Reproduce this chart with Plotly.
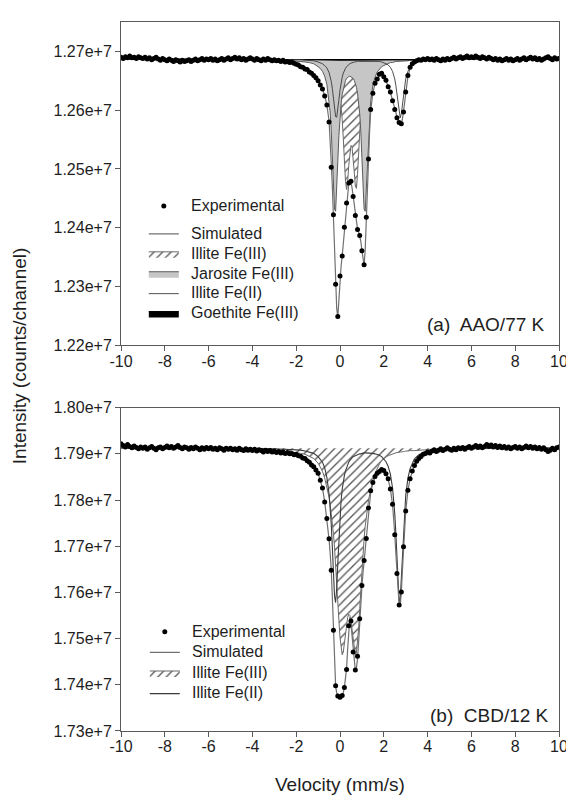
import plotly.graph_objects as go

# ---------------- data (intensities in units of 1e7 counts) ----------------
# measured velocity channels (mm/s)
vel_exp = [
    -10.0, -9.9, -9.8, -9.7, -9.6, -9.5, -9.4, -9.3, -9.2, -9.1,
    -9.0, -8.9, -8.8, -8.7, -8.6, -8.5, -8.4, -8.3, -8.2, -8.1,
    -8.0, -7.9, -7.8, -7.7, -7.6, -7.5, -7.4, -7.3, -7.2, -7.1,
    -7.0, -6.9, -6.8, -6.7, -6.6, -6.5, -6.4, -6.3, -6.2, -6.1,
    -6.0, -5.9, -5.8, -5.7, -5.6, -5.5, -5.4, -5.3, -5.2, -5.1,
    -5.0, -4.9, -4.8, -4.7, -4.6, -4.5, -4.4, -4.3, -4.2, -4.1,
    -4.0, -3.9, -3.8, -3.7, -3.6, -3.5, -3.4, -3.3, -3.2, -3.1,
    -3.0, -2.9, -2.8, -2.7, -2.6, -2.5, -2.4, -2.3, -2.2, -2.1,
    -2.0, -1.9, -1.8, -1.7, -1.6, -1.5, -1.4, -1.3, -1.2, -1.1,
    -1.0, -0.9, -0.8, -0.7, -0.6, -0.5, -0.4, -0.3, -0.2, -0.1,
    0.0, 0.1, 0.2, 0.3, 0.4, 0.5, 0.6, 0.7, 0.8, 0.9,
    1.0, 1.1, 1.2, 1.3, 1.4, 1.5, 1.6, 1.7, 1.8, 1.9,
    2.0, 2.1, 2.2, 2.3, 2.4, 2.5, 2.6, 2.7, 2.8, 2.9,
    3.0, 3.1, 3.2, 3.3, 3.4, 3.5, 3.6, 3.7, 3.8, 3.9,
    4.0, 4.1, 4.2, 4.3, 4.4, 4.5, 4.6, 4.7, 4.8, 4.9,
    5.0, 5.1, 5.2, 5.3, 5.4, 5.5, 5.6, 5.7, 5.8, 5.9,
    6.0, 6.1, 6.2, 6.3, 6.4, 6.5, 6.6, 6.7, 6.8, 6.9,
    7.0, 7.1, 7.2, 7.3, 7.4, 7.5, 7.6, 7.7, 7.8, 7.9,
    8.0, 8.1, 8.2, 8.3, 8.4, 8.5, 8.6, 8.7, 8.8, 8.9,
    9.0, 9.1, 9.2, 9.3, 9.4, 9.5, 9.6, 9.7, 9.8, 9.9, 10.0,
]

exp_a = [
    1.2690, 1.2688, 1.2691, 1.2689, 1.2692, 1.2689, 1.2690, 1.2688, 1.2691, 1.2689,
    1.2688, 1.2690, 1.2687, 1.2689, 1.2686, 1.2688, 1.2690, 1.2687, 1.2685, 1.2688,
    1.2686, 1.2684, 1.2687, 1.2685, 1.2683, 1.2686, 1.2684, 1.2682, 1.2685, 1.2683,
    1.2684, 1.2686, 1.2683, 1.2685, 1.2687, 1.2684, 1.2686, 1.2688, 1.2685, 1.2687,
    1.2686, 1.2688, 1.2685, 1.2687, 1.2684, 1.2686, 1.2688, 1.2685, 1.2687, 1.2689,
    1.2686, 1.2688, 1.2690, 1.2687, 1.2689, 1.2686, 1.2688, 1.2685, 1.2687, 1.2689,
    1.2687, 1.2685, 1.2688, 1.2686, 1.2684, 1.2687, 1.2685, 1.2688, 1.2686, 1.2684,
    1.2686, 1.2684, 1.2685, 1.2683, 1.2685, 1.2682, 1.2683, 1.2681, 1.2682, 1.2680,
    1.2678, 1.2677, 1.2674, 1.2673, 1.2670, 1.2669, 1.2665, 1.2663, 1.2659, 1.2655,
    1.2650, 1.2643, 1.2636, 1.2624, 1.2609, 1.2580, 1.2503, 1.2422, 1.2304, 1.2249,
    1.2318, 1.2352, 1.2401, 1.2442, 1.2476, 1.2479, 1.2453, 1.2421, 1.2397, 1.2387,
    1.2361, 1.2337, 1.2418, 1.2517, 1.2601, 1.2629, 1.2646, 1.2653, 1.2661, 1.2663,
    1.2657, 1.2651, 1.2640, 1.2631, 1.2616, 1.2601, 1.2587, 1.2579, 1.2577, 1.2597,
    1.2631, 1.2659, 1.2673, 1.2679, 1.2682, 1.2684, 1.2686, 1.2685, 1.2687, 1.2686,
    1.2688, 1.2686, 1.2687, 1.2685, 1.2688, 1.2686, 1.2684, 1.2687, 1.2685, 1.2688,
    1.2686, 1.2688, 1.2690, 1.2687, 1.2689, 1.2691, 1.2688, 1.2690, 1.2692, 1.2689,
    1.2691, 1.2689, 1.2692, 1.2690, 1.2688, 1.2691, 1.2689, 1.2687, 1.2690, 1.2688,
    1.2686, 1.2688, 1.2685, 1.2687, 1.2684, 1.2686, 1.2688, 1.2685, 1.2687, 1.2684,
    1.2686, 1.2688, 1.2685, 1.2687, 1.2689, 1.2686, 1.2688, 1.2690, 1.2687, 1.2689,
    1.2686, 1.2688, 1.2685, 1.2687, 1.2689, 1.2691, 1.2688, 1.2686, 1.2689, 1.2687, 1.2688,
]

exp_b = [
    1.7922, 1.7918, 1.7915, 1.7920, 1.7916, 1.7913, 1.7917, 1.7914, 1.7911, 1.7915,
    1.7912, 1.7915, 1.7910, 1.7913, 1.7916, 1.7912, 1.7909, 1.7913, 1.7915, 1.7911,
    1.7914, 1.7917, 1.7913, 1.7916, 1.7912, 1.7915, 1.7918, 1.7914, 1.7911, 1.7915,
    1.7913, 1.7910, 1.7914, 1.7911, 1.7915, 1.7912, 1.7909, 1.7913, 1.7910, 1.7914,
    1.7911, 1.7914, 1.7910, 1.7912, 1.7909, 1.7913, 1.7911, 1.7908, 1.7912, 1.7910,
    1.7912, 1.7909, 1.7911, 1.7908, 1.7912, 1.7909, 1.7907, 1.7911, 1.7908, 1.7910,
    1.7907, 1.7910, 1.7906, 1.7909, 1.7907, 1.7904, 1.7908, 1.7905, 1.7907, 1.7904,
    1.7906, 1.7903, 1.7905, 1.7902, 1.7904, 1.7901, 1.7903, 1.7900, 1.7901, 1.7898,
    1.7899, 1.7896, 1.7895, 1.7891, 1.7890, 1.7885, 1.7882, 1.7876, 1.7872, 1.7865,
    1.7858, 1.7843, 1.7826, 1.7796, 1.7760, 1.7716, 1.7648, 1.7518, 1.7398, 1.7376,
    1.7373, 1.7377, 1.7394, 1.7433, 1.7528, 1.7538, 1.7471, 1.7432, 1.7462, 1.7543,
    1.7615, 1.7669, 1.7717, 1.7783, 1.7820, 1.7838, 1.7851, 1.7858, 1.7862, 1.7866,
    1.7864, 1.7857, 1.7846, 1.7824, 1.7791, 1.7725, 1.7641, 1.7573, 1.7601, 1.7699,
    1.7776, 1.7821, 1.7846, 1.7863, 1.7875, 1.7884, 1.7890, 1.7894, 1.7899, 1.7901,
    1.7904, 1.7902, 1.7906, 1.7909, 1.7905, 1.7908, 1.7911, 1.7907, 1.7910, 1.7913,
    1.7910, 1.7908, 1.7912, 1.7909, 1.7913, 1.7911, 1.7914, 1.7910, 1.7913, 1.7916,
    1.7912, 1.7915, 1.7918, 1.7914, 1.7917, 1.7913, 1.7916, 1.7920, 1.7916, 1.7919,
    1.7915, 1.7918, 1.7914, 1.7917, 1.7913, 1.7916, 1.7912, 1.7915, 1.7911, 1.7914,
    1.7916, 1.7912, 1.7915, 1.7911, 1.7914, 1.7917, 1.7913, 1.7916, 1.7912, 1.7915,
    1.7911, 1.7914, 1.7910, 1.7913, 1.7909, 1.7905, 1.7908, 1.7912, 1.7909, 1.7913, 1.7915,
]

# velocity grid of the fitted curves (mm/s)
vel_fit = [
    -10, -8, -6, -5, -4, -3, -2.5, -2, -1.8, -1.6, -1.4, -1.2, -1.0, -0.9, -0.8, -0.7, -0.6, -0.5,
    -0.45, -0.4, -0.35, -0.3, -0.25, -0.2, -0.15, -0.1, -0.05, 0,
    0.05, 0.1, 0.15, 0.2, 0.25, 0.3, 0.35, 0.4, 0.45, 0.5, 0.55, 0.6, 0.65, 0.7, 0.75, 0.8,
    0.85, 0.9, 0.95, 1.0, 1.05, 1.1, 1.15, 1.2, 1.25, 1.3, 1.35,
    1.4, 1.5, 1.6, 1.7, 1.8, 1.9, 2.0, 2.1, 2.2, 2.3, 2.4,
    2.45, 2.5, 2.55, 2.6, 2.65, 2.7, 2.75, 2.8, 2.85, 2.9, 2.95, 3.0,
    3.1, 3.2, 3.4, 3.6, 3.8, 4.0, 4.5, 5, 6, 8, 10,
]

# (a) AAO / 77 K
sim_a = [
    1.2687, 1.2687, 1.2687, 1.2686, 1.2685, 1.2683, 1.2681, 1.2678, 1.2675, 1.2671, 1.2666, 1.2660, 1.2651, 1.2644, 1.2636, 1.2625, 1.2609, 1.2582,
    1.2553, 1.2510, 1.2470, 1.2420, 1.2362, 1.2305, 1.2262, 1.2248, 1.2283, 1.2316,
    1.2335, 1.2352, 1.2373, 1.2400, 1.2421, 1.2441, 1.2461, 1.2475, 1.2481, 1.2478, 1.2468, 1.2455, 1.2440, 1.2422, 1.2408, 1.2398,
    1.2393, 1.2386, 1.2377, 1.2362, 1.2346, 1.2336, 1.2362, 1.2418, 1.2466, 1.2514, 1.2562,
    1.2598, 1.2630, 1.2645, 1.2654, 1.2660, 1.2662, 1.2658, 1.2650, 1.2641, 1.2630, 1.2617,
    1.2609, 1.2601, 1.2594, 1.2588, 1.2582, 1.2578, 1.2576, 1.2578, 1.2585, 1.2598, 1.2613, 1.2630,
    1.2657, 1.2671, 1.2681, 1.2684, 1.2685, 1.2686, 1.2687, 1.2687, 1.2687, 1.2687, 1.2687,
]
illite3_a = [
    1.2687, 1.2687, 1.2687, 1.2687, 1.2686, 1.2686, 1.2685, 1.2685, 1.2684, 1.2684, 1.2683, 1.2683, 1.2682, 1.2681, 1.2679, 1.2678, 1.2676, 1.2674,
    1.2672, 1.2670, 1.2668, 1.2665, 1.2662, 1.2659, 1.2653, 1.2646, 1.2637, 1.2625,
    1.2608, 1.2584, 1.2552, 1.2514, 1.2479, 1.2465, 1.2479, 1.2506, 1.2529, 1.2540, 1.2537, 1.2521, 1.2495, 1.2471, 1.2467, 1.2491,
    1.2530, 1.2566, 1.2595, 1.2616, 1.2631, 1.2641, 1.2649, 1.2656, 1.2660, 1.2664, 1.2667,
    1.2670, 1.2673, 1.2676, 1.2678, 1.2679, 1.2680, 1.2681, 1.2682, 1.2682, 1.2683, 1.2683,
    1.2684, 1.2684, 1.2684, 1.2684, 1.2684, 1.2684, 1.2685, 1.2685, 1.2685, 1.2685, 1.2685, 1.2685,
    1.2685, 1.2685, 1.2686, 1.2686, 1.2686, 1.2686, 1.2686, 1.2687, 1.2687, 1.2687, 1.2687,
]
jarosite_a = [
    1.2687, 1.2687, 1.2687, 1.2686, 1.2686, 1.2686, 1.2685, 1.2684, 1.2683, 1.2682, 1.2681, 1.2679, 1.2674, 1.2671, 1.2666, 1.2658, 1.2644, 1.2618,
    1.2597, 1.2566, 1.2524, 1.2474, 1.2432, 1.2428, 1.2463, 1.2513, 1.2557, 1.2589,
    1.2611, 1.2627, 1.2637, 1.2645, 1.2650, 1.2654, 1.2656, 1.2657, 1.2658, 1.2657, 1.2656, 1.2654, 1.2651, 1.2646, 1.2639, 1.2629,
    1.2615, 1.2594, 1.2564, 1.2523, 1.2473, 1.2432, 1.2428, 1.2464, 1.2514, 1.2558, 1.2591,
    1.2614, 1.2642, 1.2656, 1.2665, 1.2670, 1.2674, 1.2676, 1.2678, 1.2680, 1.2681, 1.2681,
    1.2682, 1.2682, 1.2683, 1.2683, 1.2683, 1.2683, 1.2684, 1.2684, 1.2684, 1.2684, 1.2684, 1.2684,
    1.2684, 1.2685, 1.2685, 1.2685, 1.2686, 1.2686, 1.2686, 1.2686, 1.2687, 1.2687, 1.2687,
]
illite2_a = [
    1.2687, 1.2687, 1.2687, 1.2687, 1.2687, 1.2687, 1.2686, 1.2686, 1.2686, 1.2685, 1.2685, 1.2684, 1.2682, 1.2681, 1.2679, 1.2676, 1.2672, 1.2664,
    1.2658, 1.2649, 1.2637, 1.2621, 1.2603, 1.2589, 1.2588, 1.2600, 1.2618, 1.2634,
    1.2647, 1.2656, 1.2663, 1.2668, 1.2671, 1.2674, 1.2676, 1.2678, 1.2679, 1.2680, 1.2681, 1.2681, 1.2682, 1.2682, 1.2683, 1.2683,
    1.2683, 1.2683, 1.2684, 1.2684, 1.2684, 1.2684, 1.2684, 1.2684, 1.2684, 1.2684, 1.2684,
    1.2684, 1.2684, 1.2684, 1.2683, 1.2683, 1.2682, 1.2681, 1.2679, 1.2677, 1.2673, 1.2666,
    1.2660, 1.2653, 1.2642, 1.2628, 1.2611, 1.2594, 1.2587, 1.2594, 1.2611, 1.2628, 1.2642, 1.2653,
    1.2666, 1.2673, 1.2680, 1.2683, 1.2684, 1.2685, 1.2686, 1.2686, 1.2687, 1.2687, 1.2687,
]
vel_goethite = [-10, -3, -1.5, 0, 1.5, 3, 4.5, 10]
goethite_a = [1.2687, 1.2687, 1.2686, 1.2685, 1.2685, 1.2685, 1.2686, 1.2687]

# (b) CBD / 12 K
sim_b = [
    1.7913, 1.7913, 1.7912, 1.7911, 1.7909, 1.7906, 1.7903, 1.7899, 1.7895, 1.7890, 1.7882, 1.7872, 1.7858, 1.7844, 1.7826, 1.7797, 1.7760, 1.7715,
    1.7685, 1.7650, 1.7590, 1.7510, 1.7440, 1.7398, 1.7382, 1.7376, 1.7374, 1.7373,
    1.7374, 1.7377, 1.7383, 1.7394, 1.7410, 1.7435, 1.7478, 1.7525, 1.7546, 1.7532, 1.7505, 1.7468, 1.7440, 1.7431, 1.7436, 1.7456,
    1.7492, 1.7538, 1.7580, 1.7613, 1.7642, 1.7667, 1.7692, 1.7718, 1.7748, 1.7778, 1.7800,
    1.7816, 1.7835, 1.7849, 1.7857, 1.7862, 1.7865, 1.7863, 1.7856, 1.7844, 1.7824, 1.7790,
    1.7762, 1.7727, 1.7685, 1.7640, 1.7600, 1.7574, 1.7572, 1.7600, 1.7648, 1.7700, 1.7742, 1.7775,
    1.7820, 1.7847, 1.7874, 1.7889, 1.7898, 1.7903, 1.7908, 1.7910, 1.7912, 1.7913, 1.7913,
]
illite3_b = [
    1.7912, 1.7912, 1.7911, 1.7910, 1.7909, 1.7907, 1.7905, 1.7903, 1.7901, 1.7899, 1.7895, 1.7890, 1.7880, 1.7872, 1.7862, 1.7848, 1.7830, 1.7806,
    1.7791, 1.7773, 1.7752, 1.7727, 1.7698, 1.7664, 1.7625, 1.7582, 1.7539, 1.7502,
    1.7475, 1.7465, 1.7471, 1.7488, 1.7511, 1.7532, 1.7546, 1.7553, 1.7550, 1.7538, 1.7520, 1.7497, 1.7477, 1.7465, 1.7469, 1.7489,
    1.7523, 1.7565, 1.7608, 1.7649, 1.7685, 1.7716, 1.7743, 1.7765, 1.7783, 1.7798, 1.7811,
    1.7824, 1.7842, 1.7858, 1.7869, 1.7878, 1.7885, 1.7890, 1.7893, 1.7896, 1.7898, 1.7900,
    1.7901, 1.7902, 1.7902, 1.7903, 1.7903, 1.7904, 1.7904, 1.7904, 1.7905, 1.7905, 1.7905, 1.7906,
    1.7906, 1.7907, 1.7907, 1.7908, 1.7908, 1.7909, 1.7909, 1.7910, 1.7911, 1.7912, 1.7912,
]
illite2_b = [
    1.7913, 1.7913, 1.7912, 1.7912, 1.7912, 1.7911, 1.7910, 1.7909, 1.7908, 1.7906, 1.7904, 1.7901, 1.7894, 1.7889, 1.7882, 1.7870, 1.7849, 1.7814,
    1.7786, 1.7748, 1.7698, 1.7641, 1.7592, 1.7578, 1.7609, 1.7664, 1.7719, 1.7765,
    1.7799, 1.7823, 1.7842, 1.7853, 1.7863, 1.7871, 1.7877, 1.7882, 1.7886, 1.7889, 1.7892, 1.7894, 1.7895, 1.7896, 1.7898, 1.7899,
    1.7899, 1.7900, 1.7900, 1.7901, 1.7901, 1.7902, 1.7902, 1.7902, 1.7902, 1.7902, 1.7902,
    1.7902, 1.7901, 1.7900, 1.7899, 1.7897, 1.7894, 1.7889, 1.7883, 1.7873, 1.7856, 1.7826,
    1.7803, 1.7771, 1.7728, 1.7674, 1.7617, 1.7580, 1.7585, 1.7629, 1.7686, 1.7738, 1.7779, 1.7809,
    1.7847, 1.7868, 1.7889, 1.7898, 1.7903, 1.7906, 1.7909, 1.7911, 1.7912, 1.7913, 1.7913,
]

x_ticks = [-10, -8, -6, -4, -2, 0, 2, 4, 6, 8, 10]
x_tick_text = ["-10", "-8", "-6", "-4", "-2", "0", "2", "4", "6", "8", "10"]

legend_a_labels = ["Experimental", "Simulated", "Illite Fe(III)", "Jarosite Fe(III)", "Illite Fe(II)", "Goethite Fe(III)"]
legend_b_labels = ["Experimental", "Simulated", "Illite Fe(III)", "Illite Fe(II)"]

E7 = 1e7
def counts(lst):
    return [v * E7 for v in lst]

# ---------------- layout geometry (page pixels; the page body adds an 8 px offset) ----------------
OFF = 8
W, H = 574 - OFF, 797 - OFF
ML, MR, MT, MB = 121 - OFF, 11, 14 - OFF, 66
PW = W - ML - MR
PH = H - MT - MB

def py(page_y):
    return (H - MB - (page_y - OFF)) / PH

def pxx(page_x):
    return (page_x - OFF - ML) / PW

FONT = "Liberation Sans, Arial, Helvetica, sans-serif"
TXT = "#1e1e1e"
AX = "#5a5a5a"
SIM_COL = "#707070"
FE2_COL = "#3a3a3a"
MSIZE = 5

fig = go.Figure()
hatch = dict(shape="/", size=6, solidity=0.22, fgcolor="#555555", bgcolor="white", fillmode="replace")

# ---- panel (a) ----
fig.add_trace(go.Scatter(x=vel_fit, y=counts(illite3_a), mode="lines", fill="toself",
                         fillcolor="white", fillpattern=hatch,
                         line=dict(color="#6a6a6a", width=1), name="",
                         legend="legend", legendrank=3, legendgroup="fitA",
                         xaxis="x", yaxis="y"))
fig.add_trace(go.Scatter(x=vel_fit, y=counts(jarosite_a), mode="lines", fill="toself",
                         fillcolor="#c6c6c6", line=dict(color="#5a5a5a", width=1),
                         name="", legend="legend", legendrank=4, legendgroup="fitA",
                         xaxis="x", yaxis="y"))
fig.add_trace(go.Scatter(x=vel_goethite, y=counts(goethite_a), mode="lines", fill="toself",
                         fillcolor="black", line=dict(color="black", width=1),
                         name="", legend="legend", legendrank=6, legendgroup="fitA",
                         xaxis="x", yaxis="y"))
fig.add_trace(go.Scatter(x=vel_fit, y=counts(illite2_a), mode="lines",
                         line=dict(color=FE2_COL, width=0.9), name="",
                         legend="legend", legendrank=5, legendgroup="fitA",
                         xaxis="x", yaxis="y"))
fig.add_trace(go.Scatter(x=vel_fit, y=counts(sim_a), mode="lines",
                         line=dict(color=SIM_COL, width=1.2), name="",
                         legend="legend", legendrank=2, legendgroup="fitA",
                         xaxis="x", yaxis="y"))
fig.add_trace(go.Scatter(x=vel_exp, y=counts(exp_a), mode="markers",
                         marker=dict(color="black", size=MSIZE), name="",
                         legend="legend", legendrank=1, legendgroup="expA",
                         xaxis="x", yaxis="y"))

# ---- panel (b) ----
fig.add_trace(go.Scatter(x=vel_fit, y=counts(illite3_b), mode="lines", fill="toself",
                         fillcolor="white", fillpattern=hatch,
                         line=dict(color="#6a6a6a", width=1), name="",
                         legend="legend2", legendrank=3, legendgroup="fitB",
                         xaxis="x2", yaxis="y2"))
fig.add_trace(go.Scatter(x=vel_fit, y=counts(illite2_b), mode="lines",
                         line=dict(color=FE2_COL, width=1.1), name="",
                         legend="legend2", legendrank=4, legendgroup="fitB",
                         xaxis="x2", yaxis="y2"))
fig.add_trace(go.Scatter(x=vel_fit, y=counts(sim_b), mode="lines",
                         line=dict(color=SIM_COL, width=1.2), name="",
                         legend="legend2", legendrank=2, legendgroup="fitB",
                         xaxis="x2", yaxis="y2"))
fig.add_trace(go.Scatter(x=vel_exp, y=counts(exp_b), mode="markers",
                         marker=dict(color="black", size=MSIZE), name="",
                         legend="legend2", legendrank=1, legendgroup="expB",
                         xaxis="x2", yaxis="y2"))

xaxis_common = dict(range=[-10, 10], tickvals=x_ticks, ticktext=x_tick_text,
                    showline=True, linecolor=AX, linewidth=1, mirror=True,
                    ticks="outside", ticklen=5, tickcolor=AX, tickwidth=1,
                    showgrid=False, zeroline=False, ticklabelstandoff=-4,
                    tickfont=dict(family=FONT, size=16, color=TXT))
yaxis_common = dict(showline=True, linecolor=AX, linewidth=1, mirror=True,
                    ticks="outside", ticklen=5, tickcolor=AX, tickwidth=1,
                    showgrid=False, zeroline=False, tickformat=".2e", dtick=1e5,
                    tickfont=dict(family=FONT, size=16, color=TXT))

# legend rows (page y of each entry) -> text annotations next to the legend keys
rows_a = [200, 228, 248, 268, 288, 308]
rows_b = [630, 651, 672, 692]
annots = []
for lab, yy in zip(legend_a_labels, rows_a):
    annots.append(dict(text=lab, x=pxx(190), y=py(yy), xref="paper", yref="paper",
                       xanchor="left", yanchor="middle", showarrow=False,
                       font=dict(family=FONT, size=16, color=TXT)))
for lab, yy in zip(legend_b_labels, rows_b):
    annots.append(dict(text=lab, x=pxx(191), y=py(yy), xref="paper", yref="paper",
                       xanchor="left", yanchor="middle", showarrow=False,
                       font=dict(family=FONT, size=16, color=TXT)))
annots += [
    dict(text="(a)\u00a0 AAO/77 K", x=pxx(551), y=py(320), xref="paper", yref="paper",
         xanchor="right", yanchor="middle", showarrow=False,
         font=dict(family=FONT, size=19, color=TXT)),
    dict(text="(b)\u00a0 CBD/12 K", x=pxx(555), y=py(715), xref="paper", yref="paper",
         xanchor="right", yanchor="middle", showarrow=False,
         font=dict(family=FONT, size=19, color=TXT)),
    dict(text="Intensity (counts/channel)", x=pxx(18), y=py(351), xref="paper", yref="paper",
         xanchor="center", yanchor="middle", textangle=-90, showarrow=False,
         font=dict(family=FONT, size=19, color=TXT)),
    dict(text="Velocity (mm/s)", x=pxx(342), y=py(785), xref="paper", yref="paper",
         xanchor="center", yanchor="middle", showarrow=False,
         font=dict(family=FONT, size=19, color=TXT)),
]

fig.update_layout(
    width=W, height=H,
    margin=dict(l=ML, r=MR, t=MT, b=MB),
    paper_bgcolor="white", plot_bgcolor="white",
    font=dict(family=FONT, size=16, color=TXT),
    xaxis=dict(domain=[0, 1], anchor="y", **xaxis_common),
    yaxis=dict(domain=[py(341), 1], anchor="x", range=[1.22e7, 1.275e7], tick0=1.22e7, **yaxis_common),
    xaxis2=dict(domain=[0, 1], anchor="y2", **xaxis_common),
    yaxis2=dict(domain=[0, py(404)], anchor="x2", range=[1.73e7, 1.80e7], tick0=1.73e7, **yaxis_common),
    legend=dict(x=pxx(144), y=py(185), xanchor="left", yanchor="top",
                bgcolor="rgba(0,0,0,0)", font=dict(family=FONT, size=13, color=TXT),
                traceorder="grouped", tracegroupgap=8, itemwidth=30),
    legend2=dict(x=pxx(145), y=py(615), xanchor="left", yanchor="top",
                 bgcolor="rgba(0,0,0,0)", font=dict(family=FONT, size=13.6, color=TXT),
                 traceorder="grouped", tracegroupgap=0, itemwidth=30),
    showlegend=True,
    annotations=annots,
)

fig.write_html("out.html")
